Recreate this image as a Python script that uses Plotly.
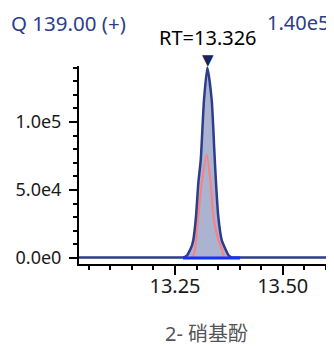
import plotly.graph_objects as go

# Chromatogram (quantifier ion, m/z 139.00)
rt = [13.027, 13.10, 13.20, 13.255, 13.2693, 13.2786, 13.2848, 13.2888, 13.2925,
      13.2987, 13.3041, 13.3097, 13.3173, 13.325, 13.3352, 13.3412, 13.3452,
      13.3505, 13.3584, 13.368, 13.3737, 13.3816, 13.401, 13.45, 13.55, 13.619]
intensity = [400, 400, 400, 400, 500, 2200, 5900, 8800, 13200,
             30400, 55100, 72000, 116200, 140000, 116200, 79400, 55100,
             30400, 13200, 5900, 2200, 500, 400, 400, 400, 400]

# Qualifier ion trace (red)
rt_q = [13.282, 13.2895, 13.2964, 13.2987, 13.3041, 13.312, 13.3236, 13.3329,
        13.3389, 13.3505, 13.3591, 13.3637, 13.370]
intensity_q = [400, 700, 5900, 13200, 30400, 55100, 75700, 55100,
               30400, 13200, 5900, 700, 400]

# Integration window
peak_start, peak_end = 13.2686, 13.401
apex_rt = 13.326

y_tickvals = [0, 50000, 100000]
y_ticktext = ["0.0e0", "5.0e4", "1.0e5"]
y_minor = [10000, 20000, 30000, 40000, 60000, 70000, 80000, 90000,
           110000, 120000, 130000, 140000]

NAVY = "#2d3d8a"
FONT = "Noto Sans, Noto Sans CJK SC, sans-serif"

fig = go.Figure()

# filled peak area
px_ = [x for x in rt if peak_start <= x <= peak_end]
py_ = [y for x, y in zip(rt, intensity) if peak_start <= x <= peak_end]
fig.add_trace(go.Scatter(x=px_, y=py_, mode="lines", fill="tozeroy",
                         fillcolor="#aab3d0", line=dict(width=0, shape="spline",
                                                        smoothing=0.6),
                         hoverinfo="skip"))
# qualifier
fig.add_trace(go.Scatter(x=rt_q, y=intensity_q, mode="lines",
                         line=dict(color="#ff7f7f", width=2, shape="spline",
                                   smoothing=0.6)))
# main chromatogram
fig.add_trace(go.Scatter(x=rt, y=intensity, mode="lines",
                         line=dict(color=NAVY, width=2.5, shape="spline",
                                   smoothing=0.6)))
# integration baseline
fig.add_trace(go.Scatter(x=[peak_start, peak_end], y=[0, 0], mode="lines",
                         line=dict(color="#1530ff", width=3)))

fig.update_layout(
    width=326, height=340,
    margin=dict(l=71, r=0, t=58, b=84),
    paper_bgcolor="white", plot_bgcolor="white",
    showlegend=False,
    font=dict(family=FONT, color="#1a1a1a"),
    xaxis=dict(range=[13.0272, 13.619], showgrid=False, zeroline=False,
               showline=True, linecolor="black", linewidth=2,
               ticks="outside", ticklen=9, tickwidth=2, tickcolor="black",
               tickvals=[13.25, 13.50], ticktext=["13.25", "13.50"],
               ticklabelstandoff=-6,
               tickfont=dict(size=20, color="#1a1a1a"),
               minor=dict(ticks="outside", ticklen=4, tickwidth=2,
                          tickcolor="black", tickmode="linear",
                          tick0=13.0, dtick=0.05)),
    yaxis=dict(range=[-4400, 141200], showgrid=False, zeroline=False,
               showline=True, linecolor="black", linewidth=2,
               ticks="outside", ticklen=8, tickwidth=2, tickcolor="black",
               tickvals=y_tickvals, ticktext=y_ticktext,
               ticklabelstandoff=4,
               tickfont=dict(size=18, color="#1a1a1a"),
               minor=dict(ticks="outside", ticklen=4, tickwidth=2,
                          tickcolor="black", tickmode="array",
                          tickvals=y_minor)),
    annotations=[
        dict(text="Q 139.00 (+)", xref="paper", yref="paper",
             x=-0.2706, y=1.2929, xanchor="left", yanchor="top",
             showarrow=False, borderpad=0,
             font=dict(size=20.5, color=NAVY)),
        dict(text="1.40e5", xref="paper", yref="paper",
             x=0.9843, y=1.2929, xanchor="right", yanchor="top",
             showarrow=False, borderpad=0,
             font=dict(size=20, color=NAVY)),
        dict(text="RT=13.326", xref="x", yref="paper",
             x=apex_rt, y=1.1439, xanchor="center", yanchor="middle",
             showarrow=False, font=dict(size=20, color="black")),
        dict(text="▼", xref="x", yref="paper",
             x=apex_rt, y=1.0328, xanchor="center", yanchor="middle",
             showarrow=False,
             font=dict(size=15, color="#15245a", family="DejaVu Sans")),
        dict(text="2- 硝基酚", xref="paper", yref="paper",
             x=0.5, y=-0.3535, xanchor="center", yanchor="middle",
             showarrow=False, font=dict(size=20, color="#555555")),
    ],
)

fig.write_html("out.html")
